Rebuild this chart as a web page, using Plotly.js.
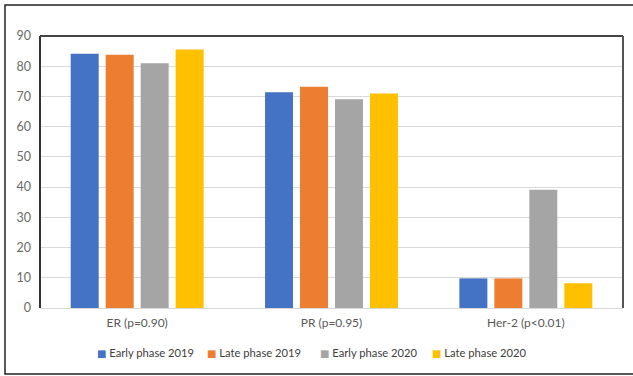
<!DOCTYPE html>
<html>
<head>
<meta charset="utf-8">
<script src="https://cdn.plot.ly/plotly-3.0.1.min.js"></script>
<style>html,body{margin:0;padding:0;background:#fff;}#chart{width:633px;height:376px;}</style>
</head>
<body>
<div id="chart"></div>
<script>
const categories = ["ER (p=0.90)", "PR (p=0.95)", "Her-2 (p<0.01)"];
const seriesNames = ["Early phase 2019", "Late phase 2019", "Early phase 2020", "Late phase 2020"];
const early2019 = [84.1, 71.4, 9.8];
const late2019 = [83.8, 73.2, 9.8];
const early2020 = [81.0, 69.1, 39.1];
const late2020 = [85.5, 71.0, 8.2];
const colors = ["#4472C4", "#ED7D31", "#A5A5A5", "#FFC000"];
const yTicks = [0, 10, 20, 30, 40, 50, 60, 70, 80, 90];

const allSeries = [early2019, late2019, early2020, late2020];
const traces = allSeries.map((vals, i) => ({
  type: "bar",
  name: seriesNames[i],
  x: categories,
  y: vals,
  marker: {color: colors[i]},
  hoverinfo: "none",
  showlegend: false
}));

const font = {family: "Lato, 'Noto Sans', sans-serif", size: 12, color: "#595959"};

// custom legend (layout positions in pixels of the page)
const plotL = 40, plotW = 583, plotB = 308, plotH = 272;
const legendPx = [95, 205, 318, 430];
const legendPy = 352;
const legendAnn = seriesNames.map((name, i) => ({
  xref: "paper", yref: "paper",
  x: (legendPx[i] - plotL) / plotW,
  y: (plotB - legendPy) / plotH,
  xanchor: "left", yanchor: "middle",
  showarrow: false,
  text: '<span style="color:' + colors[i] + ';font-family:\'DejaVu Sans\';font-size:10px">■</span> ' + name,
  font: {family: font.family, size: 11.2, color: "#404040"}
}));

const layout = {
  width: 633, height: 376,
  margin: {l: 40, r: 10, t: 36, b: 68, autoexpand: false},
  paper_bgcolor: "#ffffff",
  plot_bgcolor: "#ffffff",
  font: font,
  barmode: "group",
  bargap: 0.28,
  bargroupgap: 0.2,
  showlegend: false,
  annotations: legendAnn,
  xaxis: {
    type: "category",
    showgrid: false, zeroline: false, showline: false,
    ticks: "", ticklabelstandoff: 6,
    tickfont: {family: font.family, size: 12, color: "#595959"},
    fixedrange: true
  },
  yaxis: {
    range: [0, 90], tickvals: yTicks,
    showgrid: true, gridcolor: "#D9D9D9", gridwidth: 1,
    zeroline: true, zerolinecolor: "#D9D9D9", zerolinewidth: 1,
    showline: false, ticks: "", ticklabelstandoff: 8,
    tickfont: {family: font.family, size: 12.5, color: "#6a6a6a"},
    fixedrange: true
  },
  shapes: [
    {type: "line", xref: "paper", yref: "paper", x0: 0, x1: 0, y0: 0, y1: 1, line: {color: "#333333", width: 2}},
    {type: "line", xref: "paper", yref: "paper", x0: 0, x1: 1, y0: 1, y1: 1, line: {color: "#444444", width: 2}},
    {type: "line", xref: "paper", yref: "paper", x0: 1, x1: 1, y0: 0, y1: 1, line: {color: "#555555", width: 2}},
    {type: "rect", xref: "paper", yref: "paper", x0: -35/583, x1: 1.05, y0: -66/272, y1: 1 + 31/272, line: {color: "#222222", width: 1.5}, fillcolor: "rgba(0,0,0,0)", layer: "below"}
  ]
};

Plotly.newPlot("chart", traces, layout, {displayModeBar: false, staticPlot: true});
</script>
</body>
</html>
